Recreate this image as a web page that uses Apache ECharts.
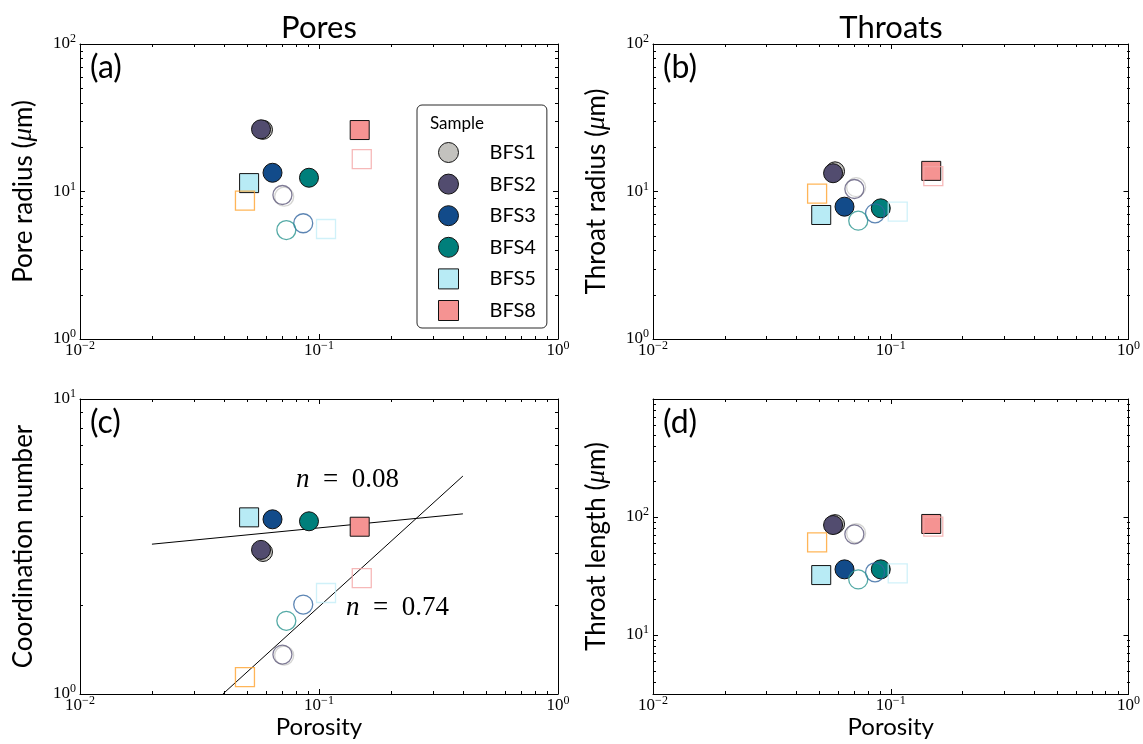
<!DOCTYPE html>
<html><head><meta charset="utf-8">
<script src="https://cdn.jsdelivr.net/npm/echarts@6/dist/echarts.min.js"></script>
<style>html,body{margin:0;padding:0;background:#fff}#c{width:1143px;height:744px}</style>
</head><body><div id="c"></div>
<script>
// ---------------- data ----------------
const samples = ['BFS1', 'BFS2', 'BFS3', 'BFS4', 'BFS5', 'BFS8'];
const porosityFilled = [0.0583, 0.0572, 0.0639, 0.0908, 0.0510, 0.148];
const porosityOpen   = [0.0715, 0.0703, 0.0859, 0.0730, 0.107, 0.151];
const porosityExtra  = 0.049;

const poreRadiusFilled   = [26.2, 26.4, 13.4, 12.4, 11.4, 26.1];
const poreRadiusOpen     = [9.22, 9.47, 6.09, 5.48, 5.57, 16.6];
const poreRadiusExtra    = 8.67;

const throatRadiusFilled = [13.7, 13.3, 7.89, 7.69, 6.93, 13.8];
const throatRadiusOpen   = [10.7, 10.4, 7.11, 6.34, 7.30, 12.7];
const throatRadiusExtra  = 9.67;

const coordFilled        = [3.03, 3.08, 3.91, 3.85, 3.97, 3.69];
const coordOpen          = [1.35, 1.36, 2.01, 1.77, 2.20, 2.47];
const coordExtra         = 1.14;

const throatLengthFilled = [87.0, 85.5, 36.0, 36.0, 32.2, 87.3];
const throatLengthOpen   = [72.8, 71.3, 34.0, 29.6, 33.3, 82.8];
const throatLengthExtra  = 61.0;

const fitLowX  = [0.02, 0.4];
const fitLowY  = [3.22, 4.08];
const fitHighX = [0.0396, 0.4];
const fitHighY = [1.0, 5.48];
const fitLabels = ['0.08', '0.74'];

const panelTitles = ['Pores', 'Throats'];
const panelLetters = ['(a)', '(b)', '(c)', '(d)'];
const yNames = ['Pore radius ({m|\u03bc}m)', 'Throat radius ({m|\u03bc}m)', 'Coordination number', 'Throat length ({m|\u03bc}m)'];
const xName = 'Porosity';
const legendTitle = 'Sample';

// ---------------- styles / layout ----------------
const fillColors = ['#c3c2be', '#524c6f', '#124b8a', '#007f7b', '#b8ebf5', '#f59392'];
const ringColors = ['#c9c9c7', '#5f5a7c', '#3366a0', '#2b9590', '#c4eef7', '#f4a6a6'];
const extraRing = '#ffa22e';
const symbols = ['circle', 'circle', 'circle', 'circle', 'rect', 'rect'];
const grids = [
  {left: 80, top: 44, width: 478, height: 295},
  {left: 653, top: 44, width: 477, height: 295},
  {left: 80, top: 399, width: 478, height: 295},
  {left: 653, top: 399, width: 477, height: 295}
];
const xRange = [0.01, 1];
const yRanges = [[1, 100], [1, 100], [1, 10], [Math.pow(10, 0.5), 1000]];
const showMaxY = [true, true, true, false];

const filledSets = [poreRadiusFilled, throatRadiusFilled, coordFilled, throatLengthFilled];
const openSets = [poreRadiusOpen, throatRadiusOpen, coordOpen, throatLengthOpen];
const extraSets = [poreRadiusExtra, throatRadiusExtra, coordExtra, throatLengthExtra];

const SERIF = 'Liberation Serif';
const SANS = 'Lato';

function tickFmt(v) {
  const e = Math.log10(v);
  const r = Math.round(e);
  if (Math.abs(e - r) > 1e-6) return '';
  return '{b|10}{s|' + (r < 0 ? '\u2212' + (-r) : r) + '}';
}
const tickRich = {
  b: {fontFamily: SERIF, fontSize: 17, lineHeight: 22, color: '#000'},
  s: {fontFamily: SERIF, fontSize: 12, lineHeight: 11, verticalAlign: 'top', color: '#000'}
};

function axis(gi, min, max, pos, showLabel, extra, showMax) {
  return Object.assign({
    type: 'log', logBase: 10, gridIndex: gi, min: min, max: max, position: pos,
    axisLine: {show: true, onZero: false, lineStyle: {color: '#000', width: 1}},
    axisTick: {show: true, inside: true, length: 5, lineStyle: {color: '#000', width: 1}},
    axisLabel: {show: showLabel, formatter: tickFmt, rich: tickRich, showMinLabel: true,
      showMaxLabel: showMax !== false,
      margin: (pos === 'left' || pos === 'right') ? 4 : 1},
    splitLine: {show: false}, minorTick: {show: false}, splitArea: {show: false}
  }, extra || {});
}

const xAxes = [], yAxes = [];
grids.forEach((g, i) => {
  xAxes.push(axis(i, xRange[0], xRange[1], 'bottom', true, i >= 2 ? {
    name: xName, nameLocation: 'middle', nameGap: 15,
    nameTextStyle: {fontFamily: SANS, fontSize: 24, color: '#000'}
  } : {}));
  yAxes.push(axis(i, yRanges[i][0], yRanges[i][1], 'left', true, {
    name: yNames[i], nameLocation: 'middle', nameGap: 43,
    nameTextStyle: {fontFamily: SANS, fontSize: 26, color: '#000',
      rich: {m: {fontFamily: SERIF, fontStyle: 'italic', fontSize: 27, color: '#000'}}}
  }, showMaxY[i]));
});
grids.forEach((g, i) => {
  xAxes.push(axis(i, xRange[0], xRange[1], 'top', false));
  yAxes.push(axis(i, yRanges[i][0], yRanges[i][1], 'right', false));
});

const series = [];
grids.forEach((g, gi) => {
  if (gi === 2) {
    [[fitLowX, fitLowY], [fitHighX, fitHighY]].forEach((f, k) => {
      series.push({
        type: 'line', name: 'fit' + k, xAxisIndex: gi, yAxisIndex: gi,
        data: f[0].map((x, j) => [x, f[1][j]]), showSymbol: false, symbol: 'none',
        lineStyle: {color: '#000', width: 1}, z: 1, silent: true
      });
    });
  }
  samples.forEach((s, i) => {
    series.push({
      type: 'scatter', name: s, xAxisIndex: gi, yAxisIndex: gi,
      data: [[porosityFilled[i], filledSets[gi][i]]],
      symbol: symbols[i], symbolSize: 19,
      itemStyle: {color: fillColors[i], borderColor: '#111', borderWidth: 1, opacity: 1},
      z: 2
    });
  });
  samples.forEach((s, i) => {
    series.push({
      type: 'scatter', name: s + ' open', xAxisIndex: gi, yAxisIndex: gi,
      data: [[porosityOpen[i], openSets[gi][i]]],
      symbol: symbols[i], symbolSize: 19,
      itemStyle: {color: 'rgba(255,255,255,0)', borderColor: ringColors[i], borderWidth: 1.3},
      z: 3
    });
  });
  series.push({
    type: 'scatter', name: 'other open', xAxisIndex: gi, yAxisIndex: gi,
    data: [[porosityExtra, extraSets[gi]]],
    symbol: 'rect', symbolSize: 19,
    itemStyle: {color: 'rgba(255,255,255,0)', borderColor: extraRing, borderWidth: 1.3},
    z: 3
  });
});

const chart = echarts.init(document.getElementById('c'), null, {renderer: 'canvas'});
chart.setOption({
  animation: false,
  backgroundColor: '#fff',
  grid: grids.map(g => Object.assign({containLabel: false}, g)),
  xAxis: xAxes,
  yAxis: yAxes,
  legend: {
    data: samples, orient: 'vertical', left: 417, top: 105,
    padding: [37, 11, 7, 21], itemWidth: 20, itemHeight: 20, itemGap: 10.6,
    backgroundColor: '#fff', borderColor: '#2a2a2a', borderWidth: 1, borderRadius: 5,
    selectedMode: false,
    itemStyle: {borderWidth: 1, borderColor: '#111'},
    textStyle: {fontFamily: SANS, fontSize: 20, lineHeight: 20, color: '#000', padding: [0, 0, 0, 26]}
  },
  series: series
});

// ---------------- annotations + minor ticks ----------------
const gfx = [];
function txt(x, y, text, font, align) {
  gfx.push({type: 'text', x: x, y: y, z: 50, silent: true,
    style: {text: text, font: font, fill: '#000', align: align || 'left', verticalAlign: 'middle'}});
}
txt(319, 28, panelTitles[0], '31px ' + SANS, 'center');
txt(891, 28, panelTitles[1], '31px ' + SANS, 'center');
txt(90, 68, panelLetters[0], '32px ' + SANS);
txt(663, 68, panelLetters[1], '32px ' + SANS);
txt(90, 423, panelLetters[2], '32px ' + SANS);
txt(663, 423, panelLetters[3], '32px ' + SANS);
gfx.push({type: 'text', x: 430, y: 124, z: 60, silent: true,
  style: {text: legendTitle, font: '17px ' + SANS, fill: '#000', verticalAlign: 'middle'}});
const nRich = {
  i: {fontFamily: SERIF, fontStyle: 'italic', fontSize: 27, fill: '#000'},
  r: {fontFamily: SERIF, fontSize: 27, fill: '#000'}
};
gfx.push({type: 'text', x: 296, y: 480, z: 50, silent: true,
  style: {text: '{i|n}{r|\u2002=\u2002' + fitLabels[0] + '}', rich: nRich, verticalAlign: 'middle', fill: '#000'}});
gfx.push({type: 'text', x: 346, y: 608, z: 50, silent: true,
  style: {text: '{i|n}{r|\u2002=\u2002' + fitLabels[1] + '}', rich: nRich, verticalAlign: 'middle', fill: '#000'}});

function minorValues(min, max) {
  const out = [];
  for (let k = Math.floor(Math.log10(min)) - 1; k <= Math.ceil(Math.log10(max)); k++) {
    for (let m = 2; m <= 9; m++) {
      const v = m * Math.pow(10, k);
      if (v > min * 1.0001 && v < max * 0.9999) out.push(v);
    }
  }
  return out;
}
const ML = 3;
grids.forEach((g, gi) => {
  const L = g.left, R = g.left + g.width, T = g.top, B = g.top + g.height;
  minorValues(xRange[0], xRange[1]).forEach(v => {
    const px = Math.round(chart.convertToPixel({xAxisIndex: gi}, v)) + 0.5;
    gfx.push({type: 'line', silent: true, z: 40, shape: {x1: px, y1: B, x2: px, y2: B - ML}, style: {stroke: '#000', lineWidth: 1}});
    gfx.push({type: 'line', silent: true, z: 40, shape: {x1: px, y1: T, x2: px, y2: T + ML}, style: {stroke: '#000', lineWidth: 1}});
  });
  minorValues(yRanges[gi][0], yRanges[gi][1]).forEach(v => {
    const py = Math.round(chart.convertToPixel({yAxisIndex: gi}, v)) + 0.5;
    gfx.push({type: 'line', silent: true, z: 40, shape: {x1: L, y1: py, x2: L + ML, y2: py}, style: {stroke: '#000', lineWidth: 1}});
    gfx.push({type: 'line', silent: true, z: 40, shape: {x1: R, y1: py, x2: R - ML, y2: py}, style: {stroke: '#000', lineWidth: 1}});
  });
});
chart.setOption({graphic: gfx});
</script>
</body></html>
